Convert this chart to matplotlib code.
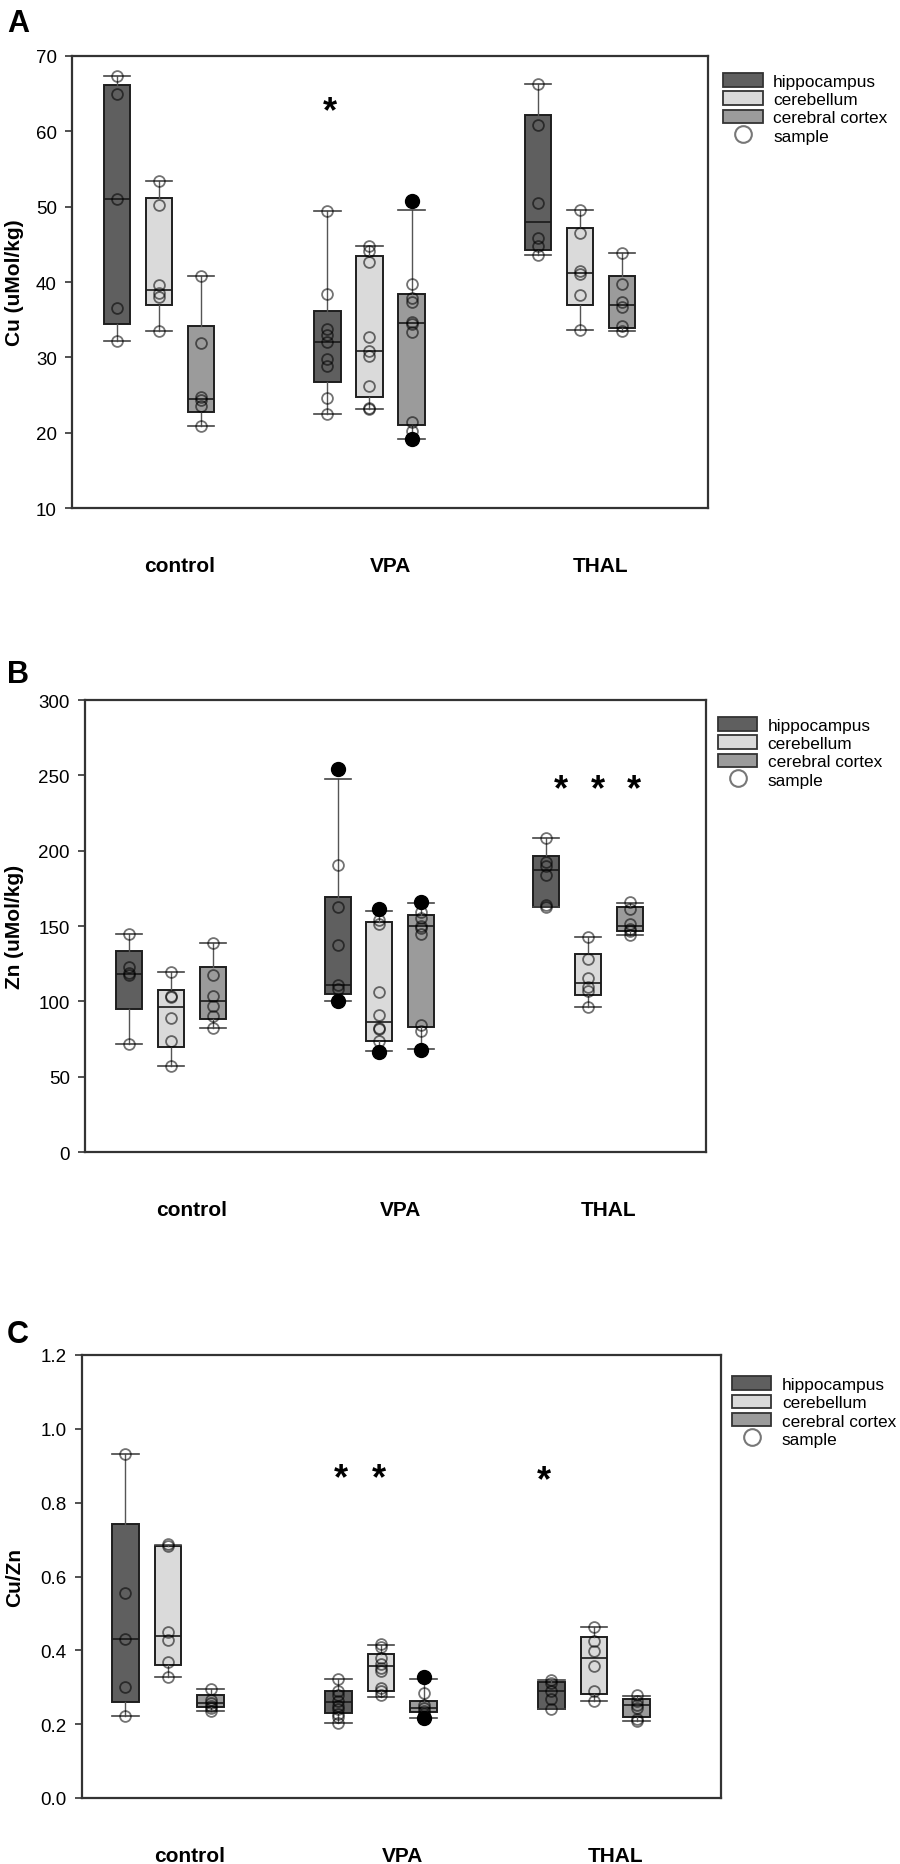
import matplotlib
matplotlib.use('Agg')
import matplotlib.pyplot as plt
from matplotlib.patches import Patch
from matplotlib.lines import Line2D

plt.rcParams['font.family'] = ['Liberation Sans', 'DejaVu Sans']

groups = ['control', 'VPA', 'THAL']
tissues = ['hippocampus', 'cerebellum', 'cerebral cortex']

# box order: control (hip, cb, cx), VPA (hip, cb, cx), THAL (hip, cb, cx)

# --- panel A: Cu (uMol/kg)
cu_q1 = [34.4, 36.9, 22.7, 26.7, 24.7, 21.0, 44.3, 37.0, 33.9]
cu_med = [51.0, 39.0, 24.5, 32.0, 30.8, 34.5, 48.0, 41.2, 37.0]
cu_q3 = [66.2, 51.1, 34.1, 36.1, 43.4, 38.4, 62.2, 47.2, 40.8]
cu_lo = [32.2, 33.5, 20.9, 22.5, 23.2, 19.2, 43.6, 33.6, 33.5]
cu_hi = [67.3, 53.4, 40.8, 49.4, 44.8, 49.6, 66.3, 49.5, 43.8]
cu_samples = [
    [67.3, 64.9, 51.0, 36.6, 32.2],
    [53.4, 50.2, 39.6, 38.5, 38.0, 33.5],
    [40.8, 31.9, 24.8, 24.3, 23.5, 20.9],
    [49.4, 38.4, 33.8, 33.0, 32.0, 29.8, 28.9, 24.6, 22.5],
    [44.8, 44.1, 42.6, 32.7, 30.9, 30.2, 26.2, 23.3, 23.2],
    [39.8, 37.9, 37.3, 34.7, 34.4, 33.4, 21.4, 20.2],
    [66.3, 60.8, 50.5, 45.8, 44.8, 43.6],
    [49.5, 46.5, 41.4, 41.1, 38.3, 33.6],
    [43.8, 39.8, 37.4, 36.7, 34.1, 33.5],
]
cu_outliers = [[], [], [], [], [], [50.7, 19.2], [], [], []]
cu_star_x = [0.81]
cu_star_y = [64.1]

# --- panel B: Zn (uMol/kg)
zn_q1 = [94.6, 69.9, 88.2, 104.7, 73.5, 83.0, 162.8, 104.0, 146.7]
zn_med = [118.2, 96.2, 100.0, 110.7, 86.5, 150.2, 187.0, 112.3, 150.2]
zn_q3 = [133.2, 107.8, 123.0, 169.4, 152.6, 157.6, 196.7, 131.5, 162.3]
zn_lo = [72.0, 57.4, 82.2, 100.5, 66.8, 68.5, 162.8, 96.5, 143.8]
zn_hi = [144.6, 119.7, 138.6, 247.6, 160.0, 165.2, 208.3, 142.7, 165.2]
zn_samples = [
    [144.6, 122.5, 118.5, 117.5, 72.0],
    [119.7, 103.8, 103.0, 88.9, 73.9, 57.4],
    [138.6, 117.3, 103.6, 96.9, 90.1, 82.2],
    [190.8, 162.3, 137.2, 111.0, 108.5],
    [154.0, 151.0, 105.9, 91.0, 82.5, 81.5, 74.0],
    [159.2, 155.0, 150.2, 149.0, 145.0, 84.1, 80.6],
    [208.3, 192.4, 189.5, 184.1, 164.0, 162.5],
    [142.7, 128.0, 115.4, 109.5, 107.0, 96.5],
    [166.0, 161.5, 151.0, 148.1, 146.7, 143.8],
]
zn_outliers = [[], [], [], [254.0, 100.2], [161.1, 66.5], [165.9, 67.5], [], [], []]
zn_star_x = [1.87, 2.05, 2.22]
zn_star_y = [248.0, 248.0, 248.0]

# --- panel C: Cu/Zn
ratio_q1 = [0.261, 0.360, 0.247, 0.231, 0.289, 0.232, 0.242, 0.282, 0.220]
ratio_med = [0.432, 0.438, 0.258, 0.259, 0.358, 0.244, 0.289, 0.378, 0.251]
ratio_q3 = [0.743, 0.683, 0.278, 0.289, 0.391, 0.263, 0.315, 0.435, 0.267]
ratio_lo = [0.223, 0.327, 0.237, 0.204, 0.273, 0.217, 0.241, 0.264, 0.209]
ratio_hi = [0.932, 0.686, 0.296, 0.321, 0.414, 0.321, 0.320, 0.463, 0.277]
ratio_samples = [
    [0.932, 0.554, 0.432, 0.300, 0.223],
    [0.688, 0.683, 0.449, 0.428, 0.369, 0.327],
    [0.296, 0.266, 0.256, 0.250, 0.244, 0.237],
    [0.321, 0.290, 0.280, 0.262, 0.250, 0.240, 0.228, 0.220, 0.204],
    [0.418, 0.410, 0.378, 0.364, 0.352, 0.345, 0.298, 0.290, 0.278],
    [0.284, 0.252, 0.243, 0.236, 0.228],
    [0.320, 0.312, 0.290, 0.268, 0.241],
    [0.463, 0.425, 0.397, 0.357, 0.291, 0.264],
    [0.278, 0.262, 0.253, 0.245, 0.215, 0.209],
]
ratio_outliers = [[], [], [], [], [], [0.328, 0.217], [], [], []]
ratio_star_x = [0.81, 0.99, 1.765]
ratio_star_y = [0.896, 0.896, 0.891]

box_colors = ['#5f5f5f', '#dadada', '#9b9b9b']
offsets = [-0.2, 0.0, 0.2]
box_w = 0.125

fig = plt.figure(figsize=(9, 18.65), dpi=100)


def draw_panel(rect, xlim, ylim, yticks, fmt, ylabel, label_x,
               q1, med, q3, lo, hi, samples, outliers, star_x, star_y,
               letter, letter_y, legend_anchor):
    ax = fig.add_axes(rect)
    positions = [g + o for g in range(3) for o in offsets]
    stats = []
    for i in range(9):
        stats.append({'q1': q1[i], 'med': med[i], 'q3': q3[i],
                      'whislo': lo[i], 'whishi': hi[i], 'fliers': []})
    bp = ax.bxp(stats, positions=positions, widths=box_w, capwidths=box_w,
                patch_artist=True, showfliers=False,
                boxprops=dict(edgecolor='#1e1e1e', linewidth=1.4),
                medianprops=dict(color='#1a1a1a', linewidth=1.2, linestyle='-'),
                whiskerprops=dict(color='#555555', linewidth=1.0),
                capprops=dict(color='#444444', linewidth=1.2))
    for i, patch in enumerate(bp['boxes']):
        patch.set_facecolor(box_colors[i % 3])

    # individual samples (translucent open circles) and black outlier dots
    for i in range(9):
        ax.plot([positions[i]] * len(samples[i]), samples[i], 'o',
                mfc='none', mec=(0, 0, 0, 0.55), mew=1.3, ms=7.8, zorder=4)
        if outliers[i]:
            ax.plot([positions[i]] * len(outliers[i]), outliers[i], 'o',
                    color='black', ms=10, zorder=5)

    for sx, sy in zip(star_x, star_y):
        ax.annotate('*', (sx, sy), xytext=(0, -15), textcoords='offset points',
                    ha='center', va='baseline', fontsize=26, fontweight='bold')

    ax.set_xlim(*xlim)
    ax.set_ylim(*ylim)
    ax.set_yticks(yticks)
    ax.set_yticklabels([fmt.format(t) for t in yticks], fontsize=13.5)
    ax.set_xticks([])
    ax.tick_params(axis='y', direction='out', length=5, width=1.2,
                   color='#333333', pad=6)
    for sp in ax.spines.values():
        sp.set_color('#333333')
        sp.set_linewidth(1.6)

    ax.set_ylabel(ylabel, fontsize=15, fontweight='bold')
    ax.yaxis.set_label_coords(label_x, 0.5)

    for g, name in enumerate(groups):
        ax.annotate(name, (g + 0.1, 0), xycoords=('data', 'axes fraction'),
                    xytext=(0, -41.5), textcoords='offset points',
                    ha='center', va='center', fontsize=15, fontweight='bold')

    handles = [Patch(facecolor=c, edgecolor='#333333', linewidth=1.3) for c in box_colors]
    handles.append(Line2D([], [], ls='none', marker='o', mfc='none',
                          mec='#777777', mew=1.5, ms=12))
    ax.legend(handles, tissues + ['sample'], loc='upper left',
              bbox_to_anchor=legend_anchor, frameon=False, fontsize=12.4,
              borderpad=0, borderaxespad=0, handlelength=2.3,
              handleheight=0.85, handletextpad=0.6, labelspacing=0.14)

    fig.text(7 / 900, 1 - letter_y / 1865, letter, fontsize=22,
             fontweight='bold', ha='left', va='baseline')
    return ax


W, H = 900, 1865

draw_panel([72 / W, 1 - 509 / H, 636 / W, 452 / H], (-0.413, 2.608), (10, 70),
           [10, 20, 30, 40, 50, 60, 70], '{:d}', 'Cu (uMol/kg)', -0.075,
           cu_q1, cu_med, cu_q3, cu_lo, cu_hi, cu_samples, cu_outliers,
           cu_star_x, cu_star_y, 'A', 32, (1.024, 0.962))

draw_panel([85 / W, 1 - 1153 / H, 621 / W, 452 / H], (-0.412, 2.566), (0, 300),
           [0, 50, 100, 150, 200, 250, 300], '{:d}', 'Zn (uMol/kg)', -0.098,
           zn_q1, zn_med, zn_q3, zn_lo, zn_hi, zn_samples, zn_outliers,
           zn_star_x, zn_star_y, 'B', 683, (1.019, 0.962))

draw_panel([82 / W, 1 - 1799 / H, 639 / W, 443 / H], (-0.404, 2.596), (0, 1.2),
           [0.0, 0.2, 0.4, 0.6, 0.8, 1.0, 1.2], '{:.1f}', 'Cu/Zn', -0.091,
           ratio_q1, ratio_med, ratio_q3, ratio_lo, ratio_hi, ratio_samples,
           ratio_outliers, ratio_star_x, ratio_star_y, 'C', 1343, (1.017, 0.952))

plt.savefig('out.png', dpi=100)
